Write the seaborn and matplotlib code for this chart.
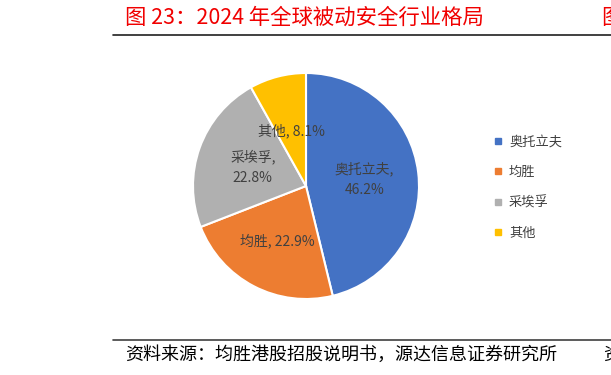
import matplotlib
matplotlib.use("Agg")
import matplotlib.pyplot as plt
import seaborn as sns
import numpy as np
from matplotlib.lines import Line2D

sns.set_theme(style="white")
plt.rcParams['font.family'] = ['Noto Sans CJK SC', 'DejaVu Sans']

categories = ["奥托立夫", "均胜", "采埃孚", "其他"]
shares = [46.2, 22.9, 22.8, 8.1]
colors = ["#4472C4", "#ED7D31", "#B0B0B0", "#FFC000"]
title = "图 23：2024 年全球被动安全行业格局"
source = "资料来源：均胜港股招股说明书，源达信息证券研究所"

W, H = 611, 375
fig = plt.figure(figsize=(W / 100, H / 100), dpi=100)

# pie axes: center (306,186), radius 113 px
cx, cy, r = 306, 186, 113
ax = fig.add_axes([(cx - r) / W, (H - cy - r) / H, 2 * r / W, 2 * r / H])
wedges, _ = ax.pie(shares, colors=colors, startangle=90, counterclock=False,
                   wedgeprops=dict(edgecolor="white", linewidth=1.5))
ax.set_xlim(-1, 1)
ax.set_ylim(-1, 1)
ax.set_aspect("equal")
ax.axis("off")

labels = [f"{categories[0]},\n{shares[0]}%", f"{categories[1]}, {shares[1]}%",
          f"{categories[2]},\n{shares[2]}%", f"{categories[3]}, {shares[3]}%"]
dists = [0.52, 0.55, 0.5, 0.5]
for w, lab, d in zip(wedges, labels, dists):
    ang = np.deg2rad((w.theta1 + w.theta2) / 2)
    ax.text(d * np.cos(ang), d * np.sin(ang), lab, ha="center", va="center",
            fontsize=10, color="#404040", linespacing=1.6)

# legend
handles = [Line2D([0], [0], marker="s", linestyle="", markersize=5,
                  markerfacecolor=c, markeredgecolor=c) for c in colors]
fig.legend(handles, categories, loc="upper left",
           bbox_to_anchor=(480 / W, 1 - 124 / H), frameon=False,
           fontsize=9.5, labelcolor="#404040", handletextpad=0.3,
           labelspacing=1.3, handlelength=1.0)

# title and source
fig.text(125 / W, 1 - 18 / H, title, fontsize=15.4, color="#F00000",
         ha="left", va="center")
fig.text(601 / W, 1 - 18 / H, "图", fontsize=15.4, color="#F00000",
         ha="left", va="center")
fig.add_artist(Line2D([113 / W, 1.0], [1 - 34.5 / H, 1 - 34.5 / H],
                      color="#202020", linewidth=1.2))
fig.add_artist(Line2D([113 / W, 1.0], [1 - 340 / H, 1 - 340 / H],
                      color="#404040", linewidth=1.2))
fig.text(125 / W, 1 - 355 / H, source, fontsize=13, color="black",
         ha="left", va="center")
fig.text(603 / W, 1 - 355 / H, "资", fontsize=13, color="black",
         ha="left", va="center")

fig.savefig("out.png", dpi=100)
